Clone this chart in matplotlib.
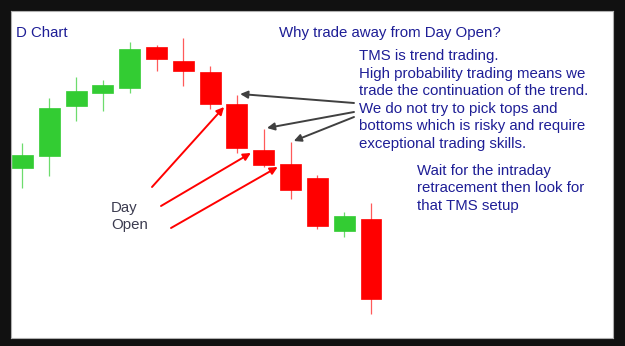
import matplotlib
matplotlib.use("Agg")
from matplotlib import pyplot as plt

# daily candles, price units are arbitrary (chart had no scale)
opens = [178, 190, 240, 253, 258, 299, 285, 274, 242, 196, 182, 168, 115, 127]
highs = [203, 248, 269, 266, 304, 301, 308, 280, 251, 217, 204, 171, 134, 143]
lows = [158, 170, 225, 235, 253, 275, 260, 237, 193, 179, 147, 117, 109, 32]
closes = [191, 238, 255, 261, 297, 287, 275, 242, 198, 181, 156, 120, 130, 47]

# candles where the day opened (red arrows) and the wick tops (gray arrows)
day_open_bars = [8, 9, 10]

title = "D Chart"
question = "Why trade away from Day Open?"
block1 = ["TMS is trend trading.",
          "High probability trading means we",
          "trade the continuation of the trend.",
          "We do not try to pick tops and",
          "bottoms which is risky and require",
          "exceptional trading skills."]
block2 = ["Wait for the intraday",
          "retracement then look for",
          "that TMS setup"]
label = ["Day", "Open"]

W, H = 625, 346
BLUE = "#1e1e96"
GREEN = "#33cc33"
RED = "#ff0000"

plt.rcParams['font.family'] = ['Liberation Sans', 'DejaVu Sans']

fig = plt.figure(figsize=(W / 100, H / 100), dpi=100)
fig.patch.set_facecolor("#111111")

#white chart area in pixels: x 11..613, y 11..338
ax = fig.add_axes([11 / W, 8 / H, 602 / W, 327 / H])
ax.set_facecolor("white")
for s in ax.spines.values():
    s.set_color("#b0b0b0")
    s.set_linewidth(0.8)
ax.set_xticks([])
ax.set_yticks([])
ax.set_xlim(-0.429, 22.03)
ax.set_ylim(8, 335)

def fpos(x, y):
    #pixel position (from top-left) -> figure fraction
    return (x / W, 1 - y / H)

xs = list(range(len(opens)))
for i in xs:
    up = closes[i] >= opens[i]
    body_col = GREEN if up else RED
    wick_col = "#6ddc6d" if up else "#ff5a5a"
    ax.vlines(i, lows[i], highs[i], color=wick_col, lw=0.9, zorder=1)
    lo = min(opens[i], closes[i])
    ax.bar(i, abs(closes[i] - opens[i]), bottom=lo, width=0.78,
           color=body_col, edgecolor=body_col, lw=0.5, zorder=2)

# red arrows from "Day Open" to the opens
red_starts = [(152, 187), (161, 206), (171, 228)]
for b, st in zip(day_open_bars, red_starts):
    ax.annotate("", xy=(b - 0.48, opens[b] - 3), xycoords="data",
                xytext=fpos(*st), textcoords="figure fraction",
                arrowprops=dict(arrowstyle="-|>", color=RED, lw=1.4,
                                mutation_scale=11, shrinkA=0, shrinkB=0))

# gray arrows from the text to the wick tops
gray_starts = [(354, 103), (354, 112), (354, 117)]
for b, st in zip(day_open_bars, gray_starts):
    ax.annotate("", xy=(b + 0.12, highs[b] + 1), xycoords="data",
                xytext=fpos(*st), textcoords="figure fraction",
                arrowprops=dict(arrowstyle="-|>", color="#404040", lw=1.4,
                                mutation_scale=11, shrinkA=0, shrinkB=0))

fs = 10.8
fig.text(*fpos(16, 37), title, color=BLUE, fontsize=fs, va="baseline")
fig.text(*fpos(279, 37), question, color=BLUE, fontsize=fs, va="baseline")
for k, line in enumerate(block1):
    fig.text(*fpos(359, 60 + 17.6 * k), line, color=BLUE, fontsize=fs, va="baseline")
for k, line in enumerate(block2):
    fig.text(*fpos(417, 175 + 17.5 * k), line, color=BLUE, fontsize=fs, va="baseline")
for k, line in enumerate(label):
    fig.text(*fpos(111, 212 + 16.5 * k), line, color="#3c3c50", fontsize=fs, va="baseline")

fig.savefig("out.png", dpi=100, facecolor=fig.get_facecolor())
